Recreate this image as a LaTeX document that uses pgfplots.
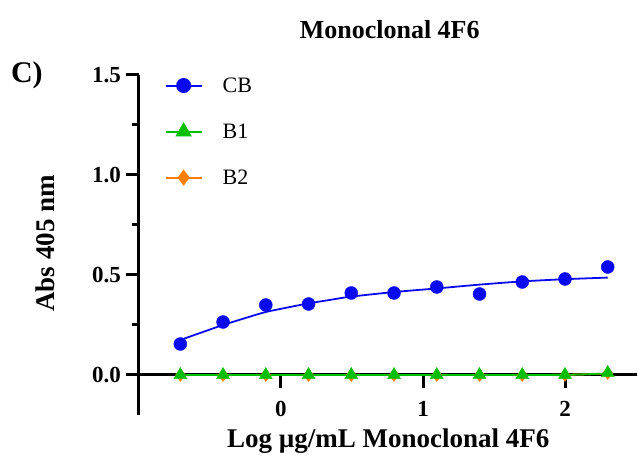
\documentclass[border=0pt]{standalone}
\usepackage{fontspec}
\setmainfont{Liberation Serif}
\usepackage{pgfplots}
\pgfplotsset{compat=1.18}
\definecolor{cbblue}{RGB}{10,10,240}
\definecolor{bgreen}{RGB}{0,190,0}
\definecolor{borange}{RGB}{255,128,0}

\begin{document}
\begin{tikzpicture}[line cap=rect]
\useasboundingbox (0,0) rectangle (638pt,466pt);
\begin{axis}[
    at={(139pt,51pt)}, anchor=south west,
    x=142pt, y=200pt,
    xmin=-1, xmax=2.51, ymin=-0.2, ymax=1.5,
    axis x line*=middle, axis y line*=left,
    hide obscured x ticks=false, hide obscured y ticks=false,
    axis line style={black, line width=3pt},
    every tick/.append style={black, line width=3pt},
    tick align=outside,
    major tick length=13pt, minor tick length=7pt,
    xtick={0,1,2}, ytick={0,0.5,1,1.5},
    minor y tick num=1,
    /pgf/number format/assume math mode=true,
    yticklabel={\pgfmathprintnumber[fixed,fixed zerofill,precision=1]{\tick}},
    ticklabel style={font=\fontsize{23}{25}\selectfont\bfseries},
    yticklabel style={inner sep=1pt, xshift=-4pt},
    xticklabel style={inner sep=1pt, yshift=-12pt},
    xlabel={Log µg/mL Monoclonal 4F6},
    ylabel={Abs 405 nm},
    label style={font=\fontsize{27}{29}\selectfont\bfseries},
    xlabel style={at={(axis description cs:0.5,-0.078)}, anchor=center},
    ylabel style={at={(axis description cs:-0.189,0.505)}, anchor=center, rotate=0},
    title={Monoclonal 4F6},
    title style={at={(axis description cs:0.503,1.117)}, anchor=center,
                 font=\fontsize{26}{28}\selectfont\bfseries},
    clip=false,
    legend style={draw=none, fill=none, at={(axis description cs:0.045,1.005)},
                  anchor=north west, font=\fontsize{22}{24}\selectfont,
                  row sep=26pt,
                  /tikz/every odd column/.append style={column sep=18pt}},
    legend cell align=left,
    legend image code/.code={
        \draw[#1, line width=2pt, mark repeat=2, mark phase=2] plot coordinates {(0pt,0pt) (18pt,0pt) (36pt,0pt)};},
]
\addlegendimage{color=cbblue, mark=*, mark options={mark size=6.5pt, draw=cbblue, fill=cbblue}}
\addlegendentry{CB}
\addlegendimage{color=bgreen, mark=triangle*, mark options={mark size=7.5pt, draw=bgreen, fill=bgreen}}
\addlegendentry{B1}
\addlegendimage{color=borange, mark=diamond*, mark options={mark size=6.5pt, draw=borange, fill=borange}}
\addlegendentry{B2}

% B2 (drawn first, mostly hidden)
\addplot[borange, line width=1.8pt, smooth, forget plot] coordinates {
    (-0.709,0) (0.495,0) (1.398,0) (2.0,0.001) (2.301,0.008)};
\addplot[only marks, mark=diamond*, mark size=6.5pt, color=borange, forget plot] coordinates {
    (-0.709,0) (-0.408,0) (-0.107,0) (0.194,0) (0.495,0) (0.796,0)
    (1.097,0) (1.398,0) (1.699,0) (2.0,0) (2.301,0.01)};

% CB
\addplot[cbblue, line width=1.8pt, smooth, forget plot] coordinates {
    (-0.709,0.175) (-0.55,0.215) (-0.408,0.25) (-0.25,0.285) (-0.107,0.315)
    (0.05,0.338) (0.194,0.358) (0.35,0.376) (0.495,0.392) (0.8,0.415)
    (1.1,0.433) (1.4,0.452) (1.7,0.468) (2.0,0.479) (2.301,0.487)};
\addplot[only marks, mark=*, mark size=6.5pt, color=cbblue, forget plot] coordinates {
    (-0.709,0.155) (-0.408,0.265) (-0.107,0.35) (0.194,0.355) (0.495,0.41)
    (0.796,0.41) (1.097,0.44) (1.398,0.405) (1.699,0.465) (2.0,0.48) (2.301,0.54)};

% B1
\addplot[bgreen, line width=1.8pt, smooth, forget plot] coordinates {
    (-0.709,0) (0.495,0) (1.398,0) (2.0,0.001) (2.301,0.008)};
\addplot[only marks, mark=triangle*, mark size=7.5pt, color=bgreen, forget plot] coordinates {
    (-0.709,0) (-0.408,0) (-0.107,0) (0.194,0) (0.495,0) (0.796,0)
    (1.097,0) (1.398,0) (1.699,0) (2.0,0) (2.301,0.01)};

\node[font=\fontsize{30}{32}\selectfont\bfseries] at (axis description cs:-0.225,1.0) {C)};
\end{axis}
\end{tikzpicture}
\end{document}
